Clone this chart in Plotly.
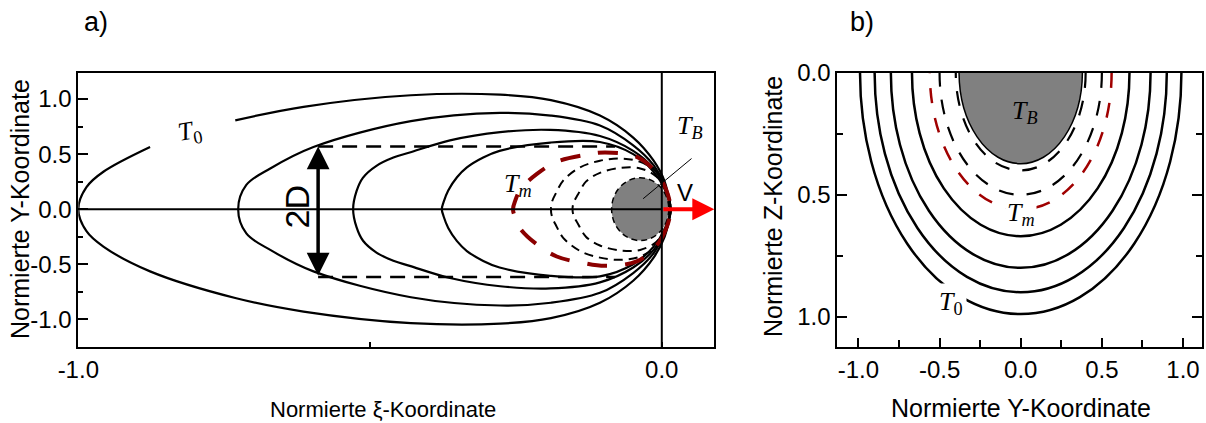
import plotly.graph_objects as go

# ---------------- data: panel a) (xi, Y) contour upper halves ----------------
xi_T0 = [-1.0, -0.986, -0.957, -0.877, -0.731, -0.614, -0.43, -0.277, -0.19, -0.106, -0.049, -0.014, 0.005, 0.015]
y_T0 = [0.0, 0.20, 0.34, 0.565, 0.807, 0.93, 1.035, 1.04, 0.99, 0.85, 0.65, 0.44, 0.25, 0.0]
T0_gap_after = 3  # label gap between point 3 and 4 on upper branch

xi_c2 = [-0.726, -0.712, -0.671, -0.597, -0.43, -0.277, -0.19, -0.106, -0.049, -0.014, 0.005, 0.015]
y_c2 = [0.0, 0.22, 0.37, 0.565, 0.80, 0.875, 0.85, 0.76, 0.58, 0.40, 0.22, 0.0]

xi_c3 = [-0.529, -0.523, -0.512, -0.489, -0.460, -0.432, -0.363, -0.277, -0.191, -0.106, -0.049, -0.014, 0.005, 0.015]
y_c3 = [0.0, 0.166, 0.287, 0.394, 0.469, 0.515, 0.625, 0.70, 0.72, 0.665, 0.53, 0.37, 0.20, 0.0]

xi_c4 = [-0.377, -0.374, -0.366, -0.351, -0.334, -0.306, -0.278, -0.191, -0.106, -0.049, -0.014, 0.005, 0.015]
y_c4 = [0.0, 0.064, 0.17, 0.29, 0.38, 0.47, 0.53, 0.605, 0.61, 0.50, 0.34, 0.18, 0.0]

xi_Tm = [-0.255, -0.251, -0.242, -0.214, -0.18, -0.134, -0.097, -0.043, -0.009, 0.008, 0.015]
y_Tm = [0.0, 0.08, 0.18, 0.32, 0.43, 0.49, 0.515, 0.475, 0.33, 0.17, 0.0]

xi_dA = [-0.19, -0.188, -0.181, -0.169, -0.14, -0.106, -0.071, -0.037, -0.005, 0.01, 0.015]
y_dA = [0.0, 0.07, 0.15, 0.26, 0.38, 0.44, 0.46, 0.43, 0.32, 0.16, 0.0]

xi_dB = [-0.153, -0.151, -0.144, -0.13, -0.106, -0.071, -0.037, -0.01, 0.008, 0.015]
y_dB = [0.0, 0.06, 0.13, 0.25, 0.33, 0.375, 0.37, 0.30, 0.16, 0.0]

blob_a = [-0.086, 0.012, -0.285, 0.285]   # xi0, xi1, y0, y1
width_lines_y = [0.57, -0.617]
width_lines_xi = [-0.589, -0.08]
arrow_v = [0.0, 0.09]

# ---------------- data: panel b) (Y, Z) cross-section radii ----------------
r_solid = [0.67, 0.80, 0.90, 0.99]
r_melt = 0.56
r_dashed = [0.50, 0.40]
r_blob = 0.38

# tick labels
a_xticks = [-1.0, -0.5, 0.0]
a_xlabels = ["-1.0", "", "0.0"]
a_yticks = [-1.0, -0.5, 0.0, 0.5, 1.0]
a_ylabels = ["-1.0", "-0.5", "0.0", "0.5", "1.0"]
b_xticks = [-1.0, -0.5, 0.0, 0.5, 1.0]
b_xlabels = ["-1.0", "-0.5", "0.0", "0.5", "1.0"]
b_yticks = [0.0, 0.5, 1.0]
b_ylabels = ["0.0", "0.5", "1.0"]

W, H = 1206, 423
MT, MB = 73, 76
PH = H - MT - MB


def px(x):
    return x / W


def py(y):
    return (H - MB - y) / PH


def closed(xs, ys, gap_after=None):
    # lower branch from nose to tail, then upper branch tail to nose
    lx = list(reversed(xs))
    ly = [-v for v in reversed(ys)]
    ux, uy = [], []
    for i in range(1, len(xs)):
        if gap_after is not None and i == gap_after + 1:
            ux.append(None)
            uy.append(None)
        ux.append(xs[i])
        uy.append(ys[i])
    return lx + ux, ly + uy


fig = go.Figure()

SANS = "Liberation Sans, Arial, sans-serif"
SERIF = "Liberation Serif, DejaVu Serif, serif"
SM = 1.0

# panel a contours
for xs, ys, gap in [(xi_T0, y_T0, T0_gap_after), (xi_c2, y_c2, None), (xi_c3, y_c3, None), (xi_c4, y_c4, None)]:
    X, Y = closed(xs, ys, gap)
    fig.add_trace(go.Scatter(x=X, y=Y, mode="lines",
                             line=dict(color="black", width=2.2, shape="spline", smoothing=SM, simplify=False),
                             hoverinfo="skip", showlegend=False, connectgaps=False))

for xs, ys in [(xi_dA, y_dA), (xi_dB, y_dB)]:
    X, Y = closed(xs, ys)
    fig.add_trace(go.Scatter(x=X, y=Y, mode="lines",
                             line=dict(color="black", width=2, dash="9px,6px", shape="spline", smoothing=SM, simplify=False),
                             hoverinfo="skip", showlegend=False))

X, Y = closed(xi_Tm, y_Tm)
fig.add_trace(go.Scatter(x=X, y=Y, mode="lines",
                         line=dict(color="#8b0000", width=4, dash="20px,18px", shape="spline", smoothing=SM, simplify=False),
                         hoverinfo="skip", showlegend=False))

# horizontal dashed width lines
for yv in width_lines_y:
    fig.add_trace(go.Scatter(x=width_lines_xi, y=[yv, yv], mode="lines", line=dict(color="black", width=2.5, dash="15px,9px"),
                             hoverinfo="skip", showlegend=False))

# invisible trace for panel b
fig.add_trace(go.Scatter(x=[0], y=[0.5], xaxis="x2", yaxis="y2", mode="markers", marker=dict(opacity=0),
                         hoverinfo="skip", showlegend=False))

shapes = []
# panel a: blob
shapes.append(dict(type="circle", xref="x", yref="y", x0=blob_a[0], x1=blob_a[1], y0=blob_a[2], y1=blob_a[3],
                   fillcolor="#808080", line=dict(color="black", width=1.5, dash="6px,4px"), layer="below"))
# axis lines
shapes.append(dict(type="line", xref="x", yref="y", x0=-1.0, x1=0.0, y0=0, y1=0, line=dict(color="black", width=2)))
shapes.append(dict(type="line", xref="x", yref="paper", x0=0.0, x1=0.0, y0=0, y1=1, line=dict(color="black", width=2)))
# leader line T_B
shapes.append(dict(type="line", xref="x", yref="y", x0=0.051, x1=-0.032, y0=0.46, y1=0.095, line=dict(color="black", width=1)))

# panel b
shapes.append(dict(type="circle", xref="x2", yref="y2", x0=-r_blob, x1=r_blob, y0=-r_blob, y1=r_blob * 0.98,
                   fillcolor="#808080", line=dict(color="black", width=1.5)))
for r in r_solid:
    shapes.append(dict(type="circle", xref="x2", yref="y2", x0=-r, x1=r, y0=-r, y1=r, line=dict(color="black", width=2.5)))
shapes.append(dict(type="circle", xref="x2", yref="y2", x0=-r_melt, x1=r_melt, y0=-r_melt, y1=r_melt,
                   line=dict(color="#a00000", width=2.5, dash="15px,15px")))
for r in r_dashed:
    shapes.append(dict(type="circle", xref="x2", yref="y2", x0=-r, x1=r, y0=-r, y1=r,
                       line=dict(color="black", width=2.2, dash="15px,13px")))


def note(**kw):
    d = dict(xanchor="center", yanchor="middle", showarrow=False)
    d.update(kw)
    return d


annotations = []
# red velocity arrow
annotations.append(dict(x=arrow_v[1], y=0.0, ax=arrow_v[0], ay=0.0, xref="x", yref="y", axref="x", ayref="y",
                        showarrow=True, arrowhead=2, arrowsize=1.1, arrowwidth=4, arrowcolor="#ff0000", text=""))
# double arrow 2D
annotations.append(dict(x=width_lines_xi[0], y=width_lines_y[0], ax=width_lines_xi[0], ay=width_lines_y[1],
                        xref="x", yref="y", axref="x", ayref="y", showarrow=True, arrowhead=2, arrowside="end+start",
                        arrowsize=1.3, arrowwidth=3.5, arrowcolor="black", text="", standoff=0, startstandoff=0))
annotations.append(note(x=-0.626, y=0.02, xref="x", yref="y", text="2D", textangle=-90,
                        font=dict(family=SANS, size=34, color="black")))
annotations.append(note(x=-0.808, y=0.70, xref="x", yref="y", text="<i>T</i><sub>0</sub>", textangle=-10,
                        font=dict(family=SERIF, size=26, color="black")))
annotations.append(note(x=-0.246, y=0.22, xref="x", yref="y", text="<i>T</i><sub><i>m</i></sub>",
                        font=dict(family=SERIF, size=26, color="black")))
annotations.append(note(x=0.049, y=0.75, xref="x", yref="y", text="<i>T</i><sub><i>B</i></sub>",
                        font=dict(family=SERIF, size=26, color="black")))
annotations.append(note(x=0.040, y=0.155, xref="x", yref="y", text="V",
                        font=dict(family=SANS, size=24, color="black")))
# panel b labels
annotations.append(note(x=0.026, y=0.16, xref="x2", yref="y2", text="<i>T</i><sub><i>B</i></sub>",
                        font=dict(family=SERIF, size=26, color="black")))
annotations.append(note(x=0.0, y=0.58, xref="x2", yref="y2", text="<i>T</i><sub><i>m</i></sub>",
                        bgcolor="white", font=dict(family=SERIF, size=26, color="black")))
annotations.append(note(x=-0.43, y=0.945, xref="x2", yref="y2", text="<i>T</i><sub>0</sub>",
                        bgcolor="white", borderpad=3, font=dict(family=SERIF, size=26, color="black")))
# panel letters and axis titles
annotations.append(note(x=px(96), y=py(22), xref="paper", yref="paper", text="a)",
                        font=dict(family=SANS, size=27, color="black")))
annotations.append(note(x=px(862), y=py(22), xref="paper", yref="paper", text="b)",
                        font=dict(family=SANS, size=27, color="black")))
annotations.append(note(x=px(383), y=py(409), xref="paper", yref="paper", text="Normierte ξ-Koordinate",
                        font=dict(family=SANS, size=22, color="black")))
annotations.append(note(x=px(20), y=py(209), xref="paper", yref="paper", text="Normierte Y-Koordinate",
                        textangle=-90, font=dict(family=SANS, size=25, color="black")))
annotations.append(note(x=px(1021), y=py(408), xref="paper", yref="paper", text="Normierte Y-Koordinate",
                        font=dict(family=SANS, size=25, color="black")))
annotations.append(note(x=px(773), y=py(207), xref="paper", yref="paper", text="Normierte Z-Koordinate",
                        textangle=-90, font=dict(family=SANS, size=25, color="black")))

axis_common = dict(showgrid=False, zeroline=False, showline=True, linecolor="black", linewidth=2,
                   ticks="inside", tickcolor="black", tickwidth=1.5, automargin=False,
                   tickfont=dict(family=SANS, size=24, color="black"))

fig.update_layout(
    width=W, height=H,
    margin=dict(l=0, r=0, t=MT, b=MB, autoexpand=False),
    paper_bgcolor="white", plot_bgcolor="white",
    showlegend=False,
    xaxis=dict(domain=[px(78.3), px(714.3)], range=[-1.0, 0.09], tickvals=a_xticks, ticktext=a_xlabels,
               ticklen=5, mirror=True, **axis_common),
    yaxis=dict(domain=[0, 1], range=[-1.252, 1.237], tickvals=a_yticks, ticktext=a_ylabels, ticklen=10,
               mirror=True, minor=dict(tickvals=[-0.75, -0.25, 0.25, 0.75], ticklen=5, ticks="inside",
                                       tickcolor="black", tickwidth=1.5), **axis_common),
    xaxis2=dict(domain=[px(837.3), px(1201.7)], range=[-1.13, 1.115], anchor="y2", tickvals=b_xticks,
                ticktext=b_xlabels, ticklen=9, mirror=True,
                minor=dict(tickvals=[-0.75, -0.25, 0.25, 0.75], ticklen=7, ticks="inside", tickcolor="black", tickwidth=1.5),
                **axis_common),
    yaxis2=dict(domain=[0, 1], range=[1.125, 0.0], anchor="x2", tickvals=b_yticks, ticktext=b_ylabels, ticklen=10,
                mirror="allticks",
                minor=dict(tickvals=[0.25, 0.75], ticklen=6, ticks="inside", tickcolor="black", tickwidth=1.5),
                **axis_common),
    shapes=shapes,
    annotations=annotations,
)

fig.write_html("out.html")
